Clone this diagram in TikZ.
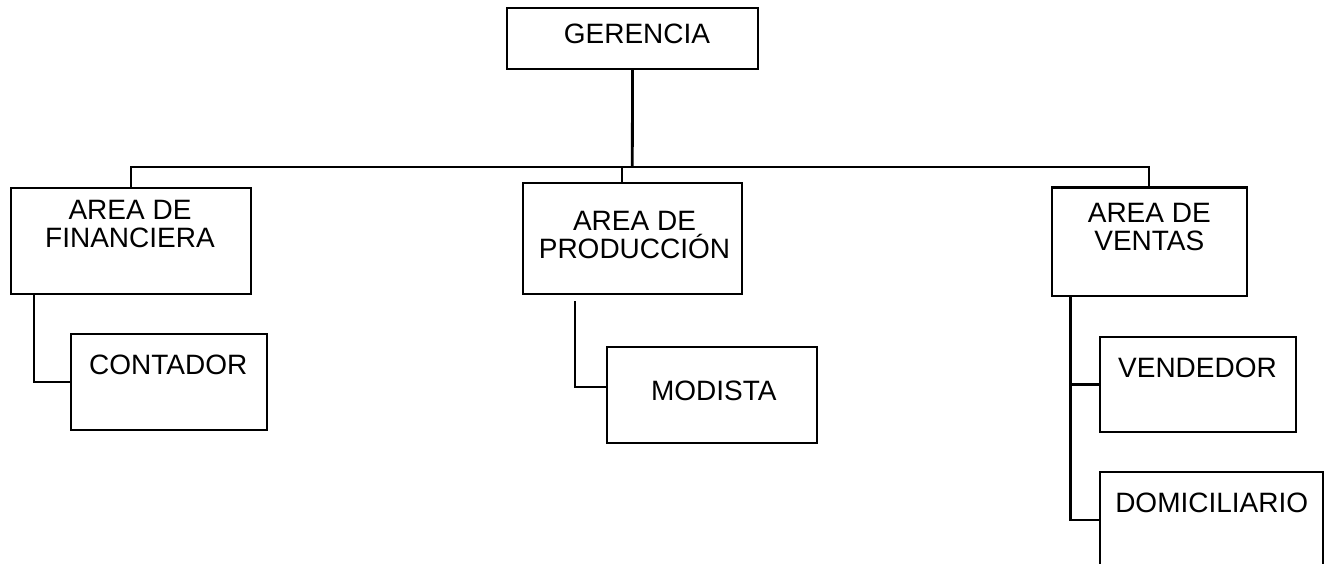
\documentclass[tikz,border=0pt]{standalone}
\usepackage{fontspec}
\setmainfont{Liberation Sans}
\usepackage{tikz}
\usetikzlibrary{positioning}

\begin{document}
\begin{tikzpicture}[x=1pt,y=-1pt,line width=2.3pt,
  caja/.style={draw,rectangle,inner sep=0pt},
  rotulo/.style={align=center,inner sep=0pt,font=\fontsize{28}{28}\selectfont}]
  % Ventana de la hoja
  \clip (0,0) rectangle (1325,564);

  % Cajas del organigrama
  \node[caja,minimum width=251pt,minimum height=61pt] (ger) at (632.5,38.5) {};
  \node[caja,minimum width=240pt,minimum height=106.6pt] (fin) at (131,241) {};
  \node[caja,minimum width=219.6pt,minimum height=111.3pt] (prod) at (632.5,238.6) {};
  \node[caja,minimum width=195.3pt,minimum height=108.3pt] (ven) at (1149.3,241.8) {};
  \node[caja,minimum width=196pt,minimum height=95.7pt] (cont) at (168.7,382) {};
  \node[caja,minimum width=210pt,minimum height=95.7pt] (mod) at (711.7,394.8) {};
  \node[caja,minimum width=195.4pt,minimum height=95pt] (vend) at (1198,384.5) {};
  \node[caja,minimum width=222.7pt,minimum height=95pt] (dom) at (1211.4,519.8) {};

  % Textos
  \node[rotulo] (tger) at (637,34) {GERENCIA};
  \node[rotulo] (tfin) at (130,224) {AREA DE\\FINANCIERA};
  \node[rotulo] (tprod) at (634.5,235) {AREA DE\\PRODUCCIÓN};
  \node[rotulo] (tven) at (1149.3,227) {AREA DE\\VENTAS};
  \node[rotulo] (tcont) at (168.3,365) {CONTADOR};
  \node[rotulo] (tmod) at (713.8,391) {MODISTA};
  \node[rotulo] (tvend) at (1197.5,368.3) {VENDEDOR};
  \node[rotulo] (tdom) at (1211.7,503.3) {DOMICILIARIO};

  % Lineas de mando
  \coordinate (bus) at (632.3,167.3);
  \draw[line width=2.8pt] (ger.south) -- (bus);
  \draw (fin.north) |- (bus) -| (ven.north);
  \draw ([xshift=-10.3pt]bus) -- ([xshift=-10.3pt]bus |- prod.north);
  \draw ([xshift=24pt]fin.south west) |- (cont.west);
  \draw ([xshift=53.3pt,yshift=-6pt]prod.south west) |- ([yshift=7.5pt]mod.west);
  \draw ([xshift=20pt]ven.south west) |- (vend.west);
  \draw ([xshift=20pt]ven.south west) |- (dom.west);
\end{tikzpicture}
\end{document}
